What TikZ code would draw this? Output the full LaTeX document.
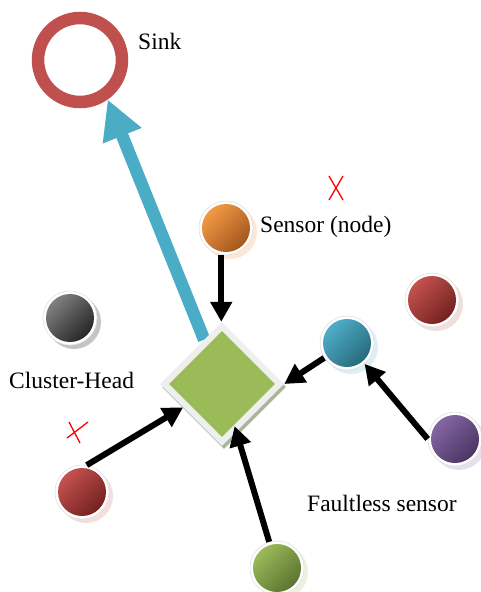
\documentclass[tikz,border=0pt]{standalone}
\usepackage{fontspec}
\setmainfont{Liberation Serif}
\usetikzlibrary{arrows.meta,shapes.geometric,calc}
\pgfdeclarelayer{background}
\pgfsetlayers{background,main}

\definecolor{sinkred}{HTML}{C0504D}
\definecolor{linkblue}{HTML}{4BACC6}
\definecolor{chgreen}{HTML}{9BBB59}
\definecolor{framegray}{HTML}{EFEFEF}
\definecolor{frameshadow}{HTML}{A9B59A}
% ball colours: light, dark, shadow
\definecolor{orangeL}{HTML}{F39A46}\definecolor{orangeD}{HTML}{A3561B}\definecolor{orangeS}{HTML}{FCE6D6}
\definecolor{grayL}{HTML}{808080}\definecolor{grayD}{HTML}{262626}\definecolor{grayS}{HTML}{C4C4C4}
\definecolor{tealL}{HTML}{4FAEC8}\definecolor{tealD}{HTML}{276A7C}\definecolor{tealS}{HTML}{DCEFF4}
\definecolor{redL}{HTML}{C4524F}\definecolor{redD}{HTML}{73211F}\definecolor{redS}{HTML}{F4DEDD}
\definecolor{purpleL}{HTML}{8466A6}\definecolor{purpleD}{HTML}{4A3662}\definecolor{purpleS}{HTML}{E6E0EE}
\definecolor{greenL}{HTML}{9BBB59}\definecolor{greenD}{HTML}{5A7530}\definecolor{greenS}{HTML}{EBF1DE}

\tikzset{
  ball/.style={circle, minimum size=54pt, inner sep=0pt, fill=white, draw=black!12, line width=0.6pt},
  txt/.style={font=\fontsize{23.5}{28}\selectfont, inner sep=0pt, anchor=west},
  flow/.style={line width=6pt, -{Triangle[length=20pt,width=21pt]}},
  uplink/.style={line width=12.5pt, draw=linkblue, -{Triangle[length=39pt,width=39pt]}},
  fault/.style={draw=red, line width=1.3pt},
  chframe/.style={diamond, minimum size=124pt, inner sep=0pt}
}

% sensor ball: name, position, colour prefix
\newcommand{\sensorball}[3]{%
  \fill[#3S] ($(#2)+(4,4)$) circle (27pt);
  \node[ball] (#1) at (#2) {};
  \shade[top color=#3L, bottom color=#3D, shading angle=45] (#1.center) circle (24pt);
}

\begin{document}
\begin{tikzpicture}[x=1pt, y=-1pt]
\useasboundingbox (0,0) rectangle (481,592);

% sink
\node[circle, draw=sinkred, line width=12.5pt, minimum size=84pt, inner sep=0pt] (sink) at (80,60) {};
\node[txt] (sinklabel) at (138,41) {Sink};

% cluster head
\node[chframe, fill=frameshadow] (chshadow) at (224,387) {};
\node[chframe, fill=framegray] (ch) at (222,384) {};
\node[diamond, minimum size=106pt, inner sep=0pt, fill=chgreen] (chcore) at (ch) {};

% sensors
\sensorball{orange}{226,228}{orange}
\sensorball{grayball}{70,318}{gray}
\sensorball{teal}{347,343}{teal}
\sensorball{redright}{432,300}{red}
\sensorball{purple}{455,439}{purple}
\sensorball{redleft}{82,492}{red}
\sensorball{greenball}{277,568}{green}

% link from cluster head to sink
\begin{pgfonlayer}{background}
  \draw[uplink] (ch) -- (sink.-55);
\end{pgfonlayer}

% data flows
\draw[flow] (orange.-100) -- (orange.-100 |- ch.north);
\draw[flow] (teal) -- (ch.east);
\draw[flow] (purple.west) -- (teal);
\draw[flow] (redleft.80) -- (ch);
\draw[flow, shorten >=-6pt] (greenball) -- (ch);

% faulty sensor marks
\draw[fault] (329,176) -- (343,200) (343,176) -- (329,200);
\draw[fault] (67,438) -- (88,422) (69,422) -- (80,443);

% labels
\node[txt] (sensorlabel) at (260,227) {Sensor (node)};
\node[txt] (chlabel) at (9,380) {Cluster-Head};
\node[txt] (faultlesslabel) at (307,503) {Faultless sensor};
\end{tikzpicture}
\end{document}
